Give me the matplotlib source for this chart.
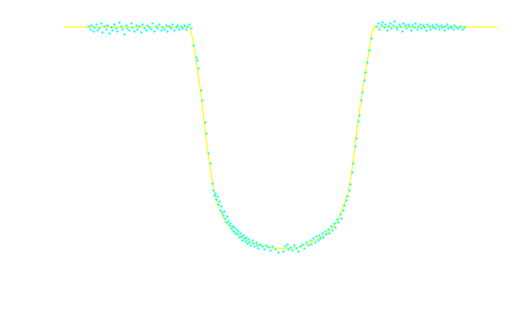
import numpy as np
import matplotlib.pyplot as plt

# transit model (time in hours from mid-transit, relative flux)
model_time = [-4.34, -1.86, -1.82, -1.76, -1.72, -1.62, -1.54, -1.46, -1.36, -1.30,
              -1.22, -1.12, -0.96, -0.80, -0.62, -0.44, -0.28, -0.16, 0.02, 0.24,
              0.38, 0.58, 0.74, 0.92, 1.06, 1.18, 1.24, 1.34, 1.40, 1.46,
              1.52, 1.58, 1.64, 1.72, 1.78, 1.82, 1.86, 4.32]
model_flux = [1.0000, 1.0000, 0.9999, 0.9987, 0.9974, 0.9940, 0.9907, 0.9874, 0.9840, 0.9828,
              0.9817, 0.9806, 0.9797, 0.9790, 0.9785, 0.9782, 0.9780, 0.9779, 0.97785, 0.9779,
              0.9780, 0.9784, 0.9788, 0.9794, 0.9801, 0.9810, 0.9820, 0.9834, 0.9850, 0.9874,
              0.9897, 0.9920, 0.9940, 0.9964, 0.9982, 0.9994, 1.0000, 1.0000]

# observations before transit
pre_time = [-3.86, -3.82, -3.80, -3.76, -3.74, -3.70, -3.68, -3.64, -3.60, -3.58,
            -3.54, -3.50, -3.48, -3.44, -3.40, -3.38, -3.34, -3.30, -3.28, -3.24,
            -3.20, -3.18, -3.14, -3.10, -3.08, -3.04, -3.00, -2.98, -2.94, -2.90,
            -2.88, -2.84, -2.80, -2.78, -2.74, -2.70, -2.68, -2.64, -2.60, -2.58,
            -2.54, -2.50, -2.48, -2.44, -2.40, -2.38, -2.34, -2.30, -2.28, -2.24,
            -2.20, -2.18, -2.14, -2.10, -2.08, -2.04, -2.00, -1.98, -1.94, -1.90,
            -1.88, -1.84, -1.80]
pre_flux = [1.0001, 0.9998, 1.0002, 0.9996, 1.0000, 1.0003, 0.9997, 0.9999, 1.0004, 0.9995,
            1.0001, 0.9998, 1.0002, 0.9994, 1.0000, 0.9997, 1.0003, 0.9999, 0.9996, 1.0005,
            1.0001, 0.9998, 0.9993, 1.0002, 0.9999, 0.9997, 1.0004, 1.0000, 0.9996, 1.0002,
            0.9998, 1.0001, 0.9995, 1.0003, 0.9999, 0.9997, 1.0002, 1.0000, 0.9998, 1.0004,
            0.9996, 1.0001, 0.9999, 1.0003, 0.9997, 1.0000, 0.9998, 1.0002, 0.9996, 1.0001,
            0.9999, 1.0003, 0.9997, 1.0000, 1.0002, 0.9998, 1.0001, 0.9999, 1.0002, 0.9998,
            1.0001, 1.0003, 0.9999]

# observations during transit
in_time = [-1.76, -1.70, -1.68, -1.66, -1.60, -1.58, -1.52, -1.50, -1.46, -1.42,
           -1.38, -1.36, -1.34,
           -1.32, -1.30, -1.28, -1.26, -1.24, -1.22, -1.20, -1.18, -1.16, -1.14,
           -1.12, -1.10, -1.08, -1.06, -1.04, -1.02, -1.00, -0.98, -0.96, -0.94,
           -0.92, -0.90, -0.88, -0.86, -0.84, -0.82, -0.80, -0.78, -0.76, -0.74,
           -0.72, -0.70, -0.68, -0.66, -0.64, -0.62, -0.58, -0.56, -0.54, -0.50,
           -0.48, -0.46, -0.42, -0.38, -0.34, -0.30, -0.26, -0.22, -0.18, -0.12,
           -0.06, 0.04, 0.08, 0.12, 0.14, 0.18, 0.22, 0.26, 0.30, 0.34,
           0.38, 0.42, 0.46, 0.50, 0.54, 0.58, 0.60, 0.64, 0.68, 0.70,
           0.74, 0.76, 0.78, 0.82, 0.84, 0.88, 0.90, 0.94, 0.96, 1.00,
           1.02, 1.06, 1.08, 1.12, 1.14, 1.18, 1.20, 1.24, 1.26, 1.30,
           1.32, 1.36, 1.38, 1.42, 1.44, 1.48, 1.50, 1.54, 1.56, 1.60,
           1.62, 1.66, 1.68, 1.72, 1.76, 1.80]
in_flux = [0.9982, 0.9970, 0.9967, 0.9959, 0.9937, 0.9927, 0.9905, 0.9894, 0.9874, 0.9864,
           0.9844, 0.9837, 0.9832,
           0.9834, 0.9828, 0.9831, 0.9823, 0.9826, 0.9817, 0.9821, 0.9815, 0.9812, 0.9816,
           0.9809, 0.9805, 0.9811, 0.9806, 0.9802, 0.9804, 0.9799, 0.9801, 0.9796, 0.9800,
           0.9794, 0.9798, 0.9793, 0.9796, 0.9790, 0.9794, 0.9791, 0.9787, 0.9792, 0.9789,
           0.9786, 0.9790, 0.9784, 0.9788, 0.9785, 0.9782, 0.9787, 0.9784, 0.9781, 0.9785,
           0.9782, 0.9779, 0.9783, 0.9781, 0.9778, 0.9782, 0.9780, 0.9777, 0.9781, 0.9778,
           0.9775, 0.9776, 0.9781, 0.9783, 0.9778, 0.9780, 0.9777, 0.9782, 0.9779, 0.9776,
           0.9781, 0.9783, 0.9779, 0.9785, 0.9782, 0.9787, 0.9783, 0.9789, 0.9785, 0.9791,
           0.9787, 0.9792, 0.9789, 0.9794, 0.9790, 0.9796, 0.9793, 0.9798, 0.9794, 0.9801,
           0.9797, 0.9804, 0.9800, 0.9808, 0.9805, 0.9813, 0.9809, 0.9817, 0.9822, 0.9827,
           0.9831, 0.9837, 0.9843, 0.9855, 0.9864, 0.9881, 0.9889, 0.9906, 0.9912, 0.9927,
           0.9935, 0.9947, 0.9955, 0.9965, 0.9977, 0.9989]

# observations after transit
post_time = [1.90, 1.93, 1.96, 1.99, 2.02, 2.05, 2.08, 2.11, 2.14, 2.17,
             2.20, 2.23, 2.26, 2.29, 2.32, 2.35, 2.38, 2.41, 2.44, 2.47,
             2.50, 2.53, 2.56, 2.59, 2.62, 2.65, 2.68, 2.71, 2.74, 2.77,
             2.80, 2.83, 2.86, 2.89, 2.92, 2.95, 2.98, 3.01, 3.04, 3.07,
             3.10, 3.13, 3.16, 3.19, 3.22, 3.25, 3.28, 3.31, 3.34, 3.37,
             3.40, 3.43, 3.46, 3.50, 3.54, 3.58, 3.62, 3.66]
post_flux = [1.0001, 1.0004, 0.9998, 1.0002, 1.0005, 1.0000, 1.0003, 0.9997, 1.0001, 1.0004,
             0.9999, 1.0002, 1.0006, 1.0000, 0.9998, 1.0003, 1.0001, 0.9996, 1.0004, 1.0002,
             0.9999, 1.0003, 1.0001, 0.9997, 1.0002, 1.0000, 1.0004, 0.9998, 1.0001, 1.0003,
             0.9999, 1.0002, 1.0000, 0.9997, 1.0003, 1.0001, 0.9998, 1.0002, 1.0000, 0.9999,
             1.0003, 1.0001, 0.9998, 1.0002, 1.0000, 0.9997, 1.0001, 1.0003, 0.9999, 1.0001,
             1.0000, 0.9998, 1.0002, 1.0000, 0.9999, 1.0001, 0.9998, 1.0000]

obs_time = np.array(pre_time + in_time + post_time)
obs_flux = np.array(pre_flux + in_flux + post_flux)

fig = plt.figure(figsize=(5.12, 3.23), dpi=100)
ax = fig.add_axes([0, 0, 1, 1])

ax.plot(model_time, model_flux, color="#ffff00", lw=0.8, zorder=1)
ax.plot(obs_time, obs_flux, linestyle="none", marker="s", markersize=1.4,
        markeredgewidth=0, color="#00ffff", zorder=2)

ax.set_xlim(-5.62, 4.62)
ax.set_ylim(0.9704, 1.0027)
ax.axis("off")

fig.savefig("out.png", dpi=100)
